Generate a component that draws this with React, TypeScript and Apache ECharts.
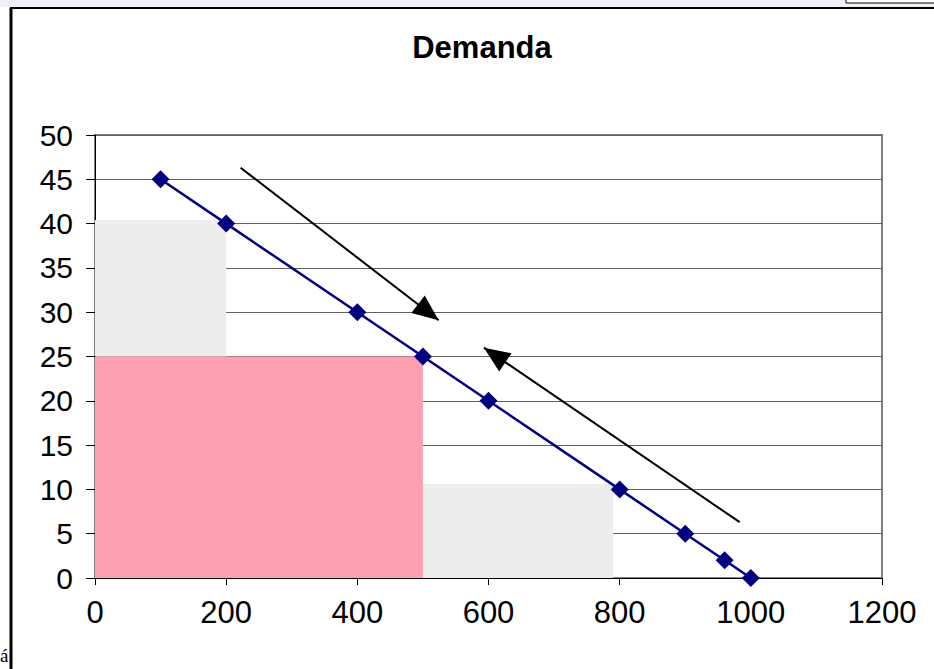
import React, { useEffect, useRef } from "react";
import * as echarts from "echarts";

const titleText = "Demanda";
const quantity = [100, 200, 400, 500, 600, 800, 900, 960, 1000];
const price = [45, 40, 30, 25, 20, 10, 5, 2, 0];
const xTicks = { min: 0, max: 1200, interval: 200 };
const yTicks = { min: 0, max: 50, interval: 5 };
// shaded regions: [x0, y0, x1, y1]
const upperGrayArea = [0, 25, 200, 40.4];
const pinkArea = [0, 0, 500, 25];
const lowerGrayArea = [500, 0, 790, 10.6];
// arrows: [xStart, yStart, xEnd, yEnd]
const arrowDown = [222, 46.3, 524, 29.1];
const arrowUp = [983, 6.3, 593, 26.0];

const FONT = "'Liberation Sans', Arial, sans-serif";
const ARROW_HEAD = "path://M0,0L11,26L-11,26ZM0,-26L0,-26";

export default function App() {
  const ref = useRef<HTMLDivElement>(null);
  useEffect(() => {
    document.body.style.margin = "0";
    const chart = echarts.init(ref.current!, null, { renderer: "svg" });
    const area = (a: number[], color: string) => [
      { coord: [a[0], a[1]], itemStyle: { color } },
      { coord: [a[2], a[3]] },
    ];
    const arrow = (a: number[]) => [
      { coord: [a[0], a[1]] },
      { coord: [a[2], a[3]] },
    ];
    chart.setOption({
      animation: false,
      backgroundColor: "#ffffff",
      title: {
        text: titleText,
        left: 477,
        top: 27,
        textAlign: "center",
        textStyle: { fontFamily: FONT, fontSize: 31, fontWeight: "bold", color: "#000" },
      },
      grid: {
        left: 95,
        top: 135,
        right: 52,
        bottom: 91,
        show: true,
        borderColor: "#808080",
        borderWidth: 2,
        backgroundColor: "#ffffff",
      },
      xAxis: {
        type: "value",
        min: xTicks.min,
        max: xTicks.max,
        interval: xTicks.interval,
        axisLine: { show: true, onZero: false, lineStyle: { color: "#000", width: 1 } },
        axisTick: { show: true, length: 7, inside: false, lineStyle: { color: "#000" } },
        axisLabel: {
          fontFamily: FONT,
          fontSize: 31,
          color: "#000",
          margin: 19,
          formatter: (v: number) => String(v),
        },
        splitLine: { show: false },
      },
      yAxis: {
        type: "value",
        min: yTicks.min,
        max: yTicks.max,
        interval: yTicks.interval,
        axisLine: { show: true, onZero: false, lineStyle: { color: "#000", width: 1 } },
        axisTick: { show: true, length: 9, inside: false, lineStyle: { color: "#000" } },
        axisLabel: {
          fontFamily: FONT,
          fontSize: 30,
          color: "#000",
          margin: 22,
          formatter: (v: number) => String(v),
        },
        splitLine: { show: true, lineStyle: { color: "#606060", width: 1 } },
      },
      series: [
        {
          type: "line",
          data: quantity.map((q, i) => [q, price[i]]),
          symbol: "diamond",
          symbolSize: 18,
          lineStyle: { color: "#000080", width: 2.5 },
          itemStyle: { color: "#000080" },
          z: 5,
          markArea: {
            silent: true,
            z: 1,
            data: [
              area(upperGrayArea, "#ededed"),
              area(pinkArea, "#ff9fb2"),
              area(lowerGrayArea, "#ededed"),
            ],
          },
          markLine: {
            silent: true,
            symbol: ["none", ARROW_HEAD],
            symbolSize: [22, 52],
            label: { show: false },
            lineStyle: { color: "#000", width: 2, type: "solid" },
            data: [arrow(arrowDown), arrow(arrowUp)],
          },
        },
      ],
      graphic: [
        { type: "rect", shape: { x: 0, y: 0, width: 934, height: 7 }, style: { fill: "#eef0f6" }, silent: true },
        { type: "rect", shape: { x: 846, y: -2, width: 90, height: 5 }, style: { fill: "#fff", stroke: "#000", lineWidth: 1 }, silent: true },
        { type: "line", shape: { x1: 10, y1: 8, x2: 934, y2: 8 }, style: { stroke: "#000", lineWidth: 2 }, silent: true },
        { type: "line", shape: { x1: 11, y1: 8, x2: 11, y2: 669 }, style: { stroke: "#000", lineWidth: 3 }, silent: true },
        { type: "text", x: 0, y: 646, style: { text: "á", font: "19px 'Liberation Serif', serif", fill: "#000" }, silent: true },
      ],
    });
    return () => chart.dispose();
  }, []);
  return (
    <div
      ref={ref}
      style={{ position: "absolute", left: 0, top: 0, width: 934, height: 669 }}
    />
  );
}
